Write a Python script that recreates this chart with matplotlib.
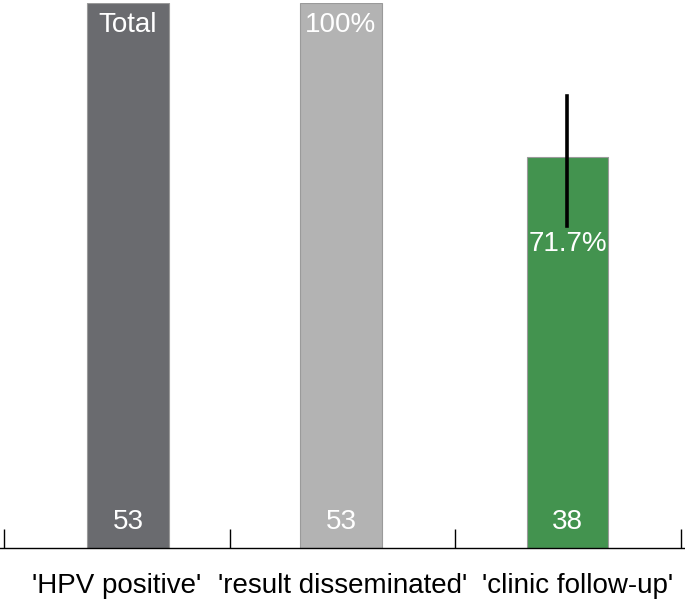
import numpy as np
import matplotlib
matplotlib.use("Agg")
import matplotlib.pyplot as plt

plt.rcParams["font.family"] = ["Liberation Sans", "DejaVu Sans"]

CATEGORIES = ["'HPV positive'", "'result disseminated'", "'clinic follow-up'"]
COUNTS = [53, 53, 38]
PERCENT = [100, 100, 71.7]
TOP_LABELS = ["Total", "100%", "71.7%"]
CI_LOW = [None, None, 59.0]
CI_HIGH = [None, None, 83.0]
COLORS = ["#6a6b6f", "#b3b3b3", "#43934f"]

# small nudges so bars / labels sit where the original put them
BAR_SHIFT = [0.05, -0.007, -0.003]
LABEL_SHIFT = [0.0, 0.0, 0.04]

fig = plt.figure(figsize=(6.85, 6.05), dpi=100)
ax = fig.add_axes([0.0, 0.0942, 1.0, 0.9008])

x = np.arange(len(CATEGORIES))
xb = x + np.array(BAR_SHIFT)
ax.bar(xb, PERCENT, width=0.363, color=COLORS, edgecolor="#9a9a9a", linewidth=0.8, zorder=2)

for i in range(len(CATEGORIES)):
    if CI_LOW[i] is not None:
        ax.plot([xb[i], xb[i]], [CI_LOW[i], CI_HIGH[i]], color="black", lw=2.6, zorder=3)
    ax.text(xb[i], 4.8, str(COUNTS[i]), ha="center", va="center", color="white", fontsize=20)
    ypos = PERCENT[i] - 4 if i < 2 else PERCENT[i] - 16
    ax.text(xb[i], ypos, TOP_LABELS[i], ha="center", va="center", color="white", fontsize=20)

ax.set_xlim(-0.5177, 2.5177)
ax.set_ylim(0, 100)
ax.set_yticks([])
for s in ["top", "right", "left"]:
    ax.spines[s].set_visible(False)
ax.spines["bottom"].set_linewidth(1.0)

ax.set_xticks(np.arange(-0.5, 3.0, 1.0))
ax.set_xticklabels([])
ax.tick_params(axis="x", which="major", direction="in", length=14, width=1.0)
ax.set_xticks(x + np.array(LABEL_SHIFT), minor=True)
ax.set_xticklabels(CATEGORIES, minor=True, fontsize=20)
ax.tick_params(axis="x", which="minor", length=0, pad=18)

fig.savefig("out.png", dpi=100)
